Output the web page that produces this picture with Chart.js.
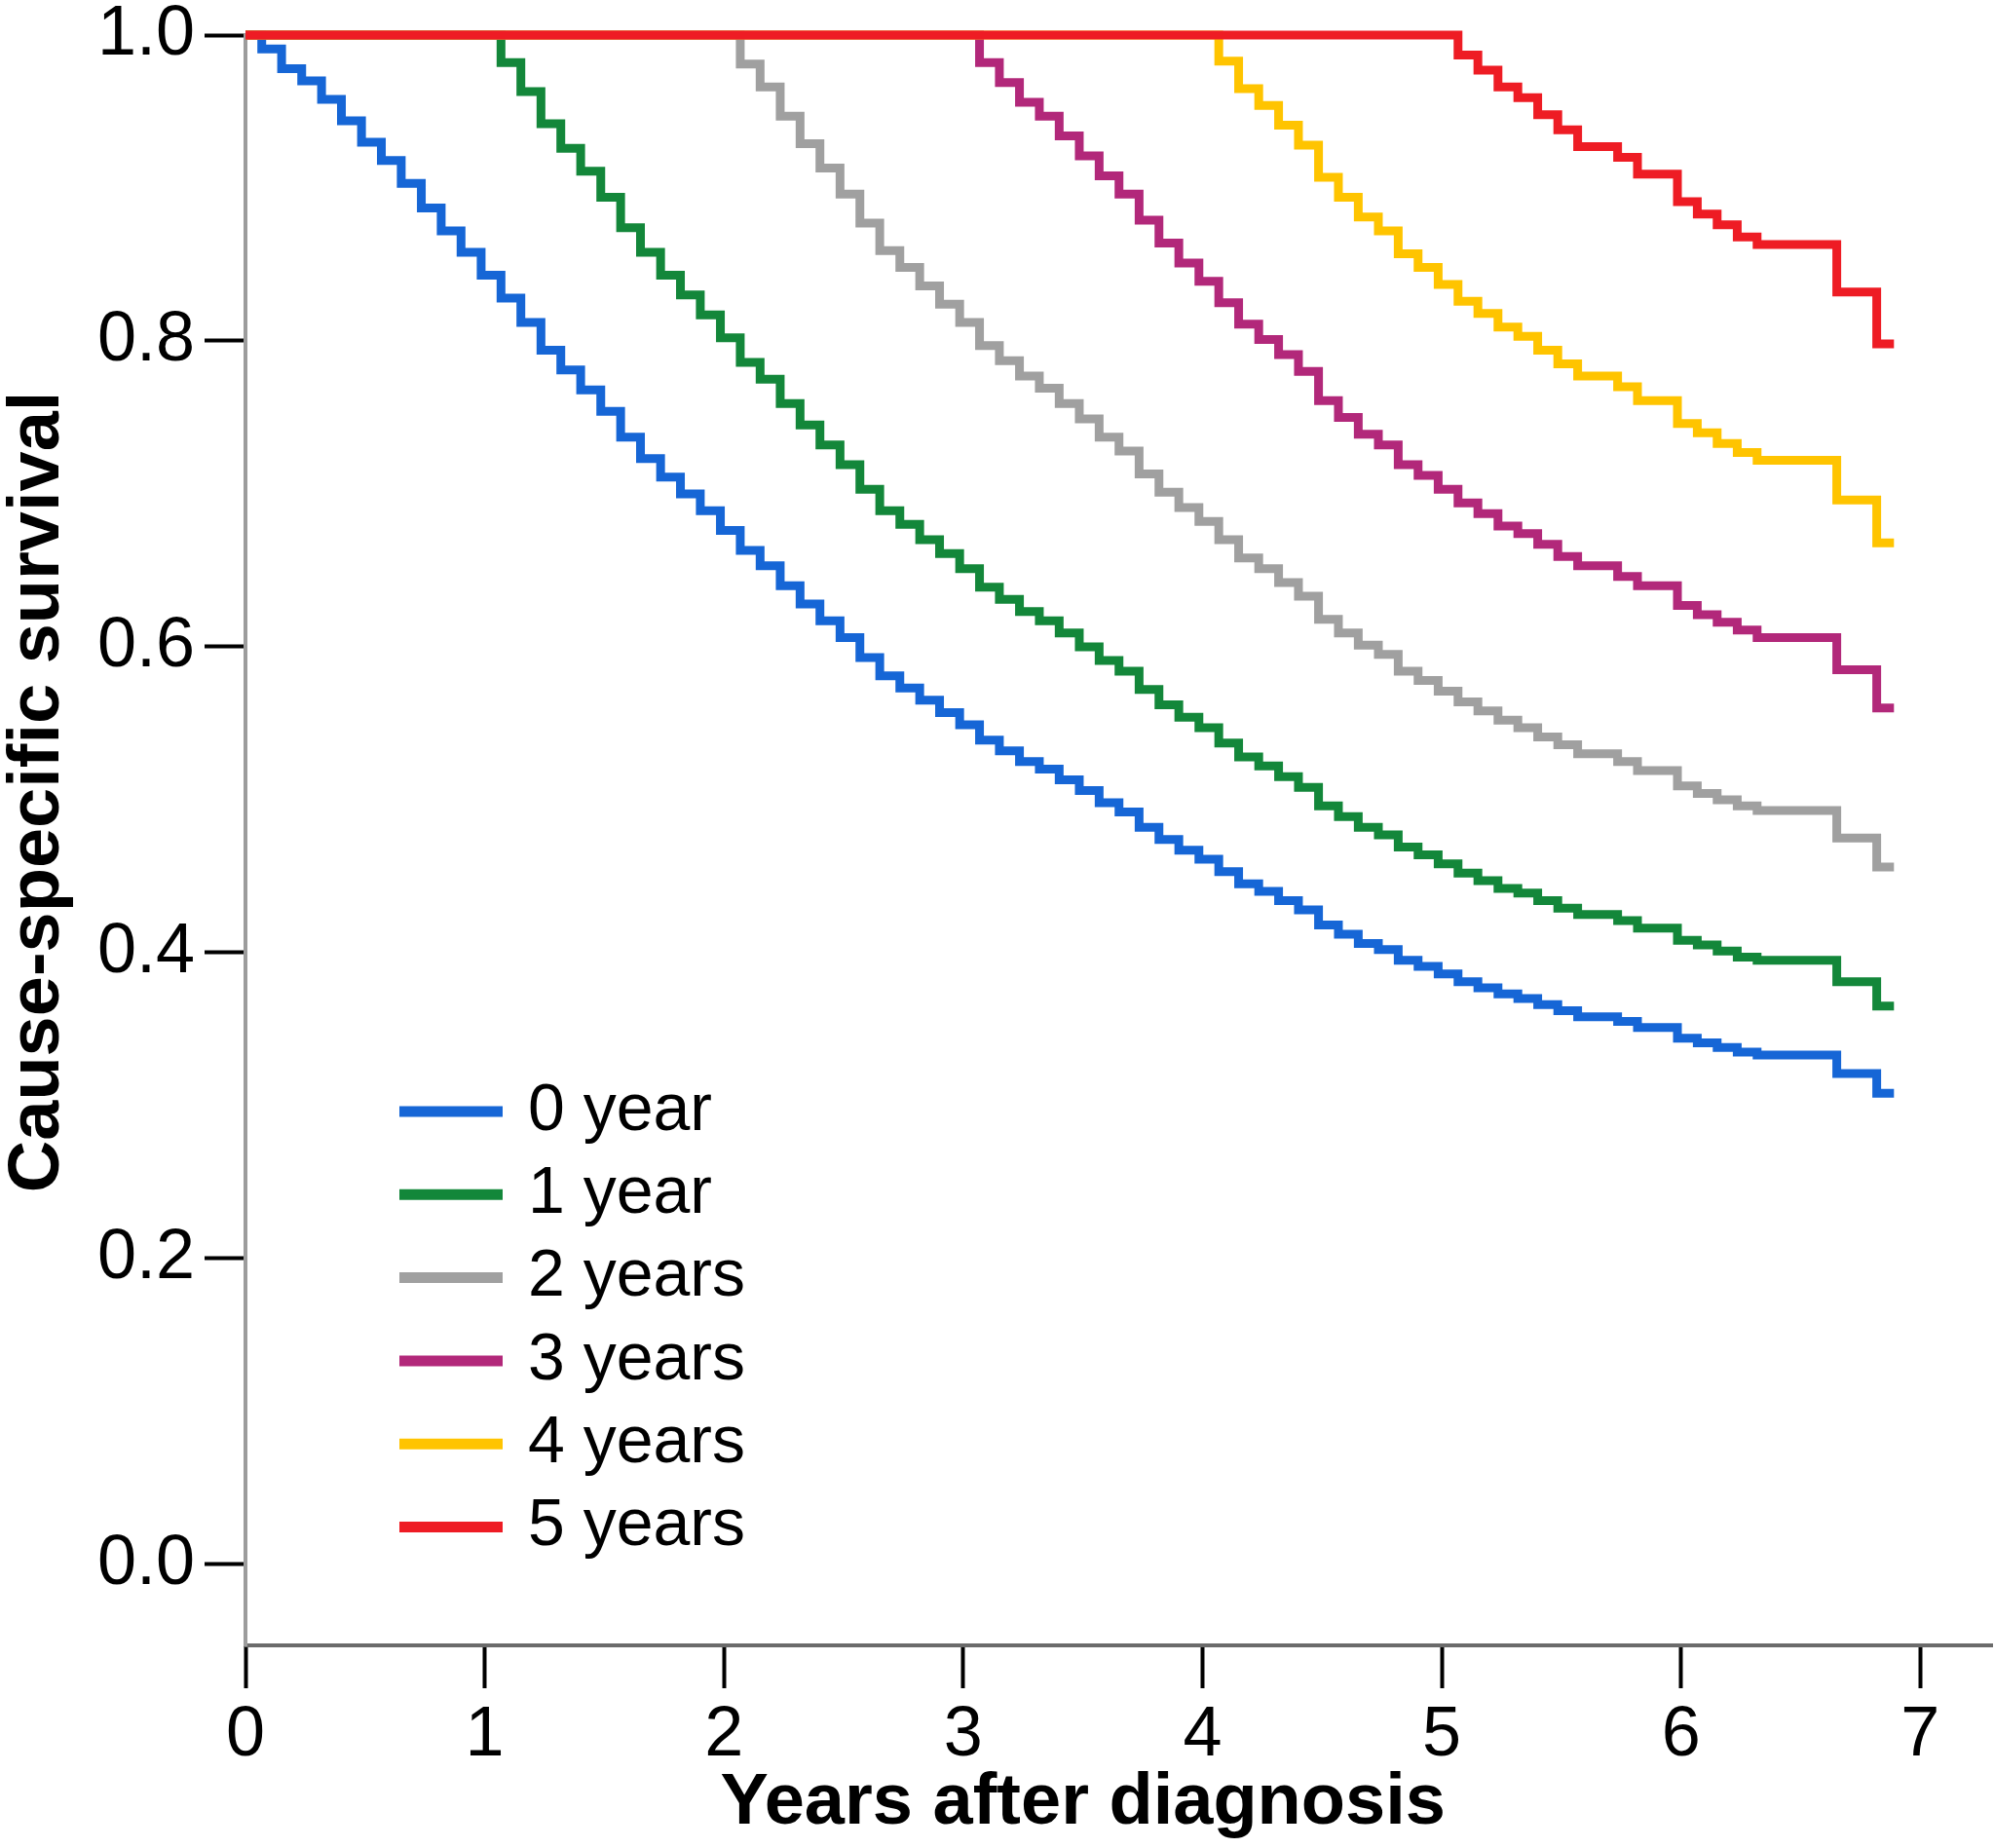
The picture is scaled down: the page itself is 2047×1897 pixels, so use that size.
<!DOCTYPE html>
<html>
<head>
<meta charset="utf-8">
<title>Cause-specific survival</title>
<script src="https://cdn.jsdelivr.net/npm/chart.js@4.4.1/dist/chart.umd.min.js"></script>
<style>
  html, body { margin: 0; padding: 0; background: #fff; }
</style>
</head>
<body>
<canvas id="survivalChart" width="2047" height="1897"></canvas>
<script>
// Times (years after diagnosis) at which the curves step down, shared by all groups
const stepYears = [
  0.068, 0.151, 0.235, 0.318, 0.401, 0.485, 0.568, 0.651, 0.735, 0.818, 0.901, 0.985,
  1.068, 1.151, 1.235, 1.318, 1.401, 1.485, 1.568, 1.651, 1.735, 1.818, 1.901, 1.985,
  2.068, 2.151, 2.235, 2.318, 2.401, 2.485, 2.568, 2.651, 2.735, 2.818, 2.901, 2.985,
  3.068, 3.151, 3.235, 3.318, 3.401, 3.485, 3.568, 3.651, 3.735, 3.818, 3.901, 3.985,
  4.068, 4.151, 4.235, 4.318, 4.401, 4.485, 4.568, 4.651, 4.735, 4.818, 4.901, 4.985,
  5.068, 5.151, 5.235, 5.318, 5.401, 5.485, 5.568, 5.651, 5.735, 5.818, 5.901, 5.985,
  6.068, 6.151, 6.235, 6.318, 6.401, 6.485, 6.568, 6.651, 6.735, 6.818
];
const endYear = 6.89;

const groupLabels = ['0 year', '1 year', '2 years', '3 years', '4 years', '5 years'];
const startYears = [0, 1, 2, 3, 4, 5];

// survival values: first entry is 1.0, then the value after each step from the group's start
const surv0 = [
  1.000, 0.991, 0.978, 0.970, 0.958, 0.944, 0.930, 0.918, 0.903, 0.887, 0.872, 0.858, 0.843,
  0.828, 0.812, 0.794, 0.781, 0.768, 0.754, 0.737, 0.723, 0.711, 0.700, 0.689, 0.676,
  0.663, 0.653, 0.640, 0.628, 0.617, 0.606, 0.593, 0.581, 0.573, 0.565, 0.557, 0.549,
  0.539, 0.532, 0.525, 0.520, 0.513, 0.506, 0.498, 0.492, 0.482, 0.474, 0.467, 0.461,
  0.453, 0.445, 0.440, 0.434, 0.428, 0.418, 0.412, 0.406, 0.402, 0.395, 0.391, 0.386,
  0.381, 0.377, 0.373, 0.370, 0.366, 0.362, 0.358, 0.358, 0.355, 0.351, 0.351, 0.344,
  0.341, 0.338, 0.335, 0.333, 0.333, 0.333, 0.333, 0.321, 0.321, 0.308
];
const surv1 = [
  1.000,
  0.982, 0.963, 0.942, 0.926, 0.911, 0.894, 0.874, 0.858, 0.843, 0.830, 0.817, 0.802,
  0.786, 0.775, 0.759, 0.745, 0.732, 0.719, 0.703, 0.689, 0.680, 0.670, 0.661, 0.651,
  0.639, 0.631, 0.623, 0.617, 0.609, 0.600, 0.591, 0.584, 0.572, 0.562, 0.554, 0.547,
  0.537, 0.528, 0.522, 0.515, 0.508, 0.496, 0.489, 0.482, 0.477, 0.469, 0.464, 0.458,
  0.452, 0.447, 0.442, 0.439, 0.434, 0.429, 0.425, 0.425, 0.421, 0.416, 0.416, 0.408,
  0.405, 0.401, 0.397, 0.395, 0.395, 0.395, 0.395, 0.381, 0.381, 0.365
];
const surv2 = [
  1.000,
  0.981, 0.966, 0.947, 0.929, 0.913, 0.896, 0.877, 0.859, 0.848, 0.836, 0.824, 0.812,
  0.797, 0.787, 0.777, 0.769, 0.759, 0.749, 0.737, 0.728, 0.713, 0.701, 0.691, 0.682,
  0.670, 0.658, 0.651, 0.642, 0.633, 0.618, 0.609, 0.601, 0.595, 0.584, 0.578, 0.571,
  0.564, 0.558, 0.552, 0.547, 0.541, 0.536, 0.530, 0.530, 0.525, 0.519, 0.519, 0.509,
  0.504, 0.500, 0.496, 0.493, 0.493, 0.493, 0.493, 0.475, 0.475, 0.456
];
const surv3 = [
  1.000,
  0.982, 0.969, 0.956, 0.947, 0.934, 0.921, 0.908, 0.896, 0.879, 0.864, 0.851, 0.839,
  0.825, 0.811, 0.801, 0.791, 0.780, 0.761, 0.750, 0.739, 0.732, 0.719, 0.712, 0.703,
  0.694, 0.687, 0.679, 0.674, 0.667, 0.659, 0.653, 0.653, 0.646, 0.640, 0.640, 0.627,
  0.621, 0.616, 0.611, 0.606, 0.606, 0.606, 0.606, 0.585, 0.585, 0.560
];
const surv4 = [
  1.000,
  0.983, 0.965, 0.954, 0.941, 0.928, 0.907, 0.894, 0.881, 0.872, 0.857, 0.848, 0.837,
  0.826, 0.818, 0.809, 0.803, 0.794, 0.785, 0.777, 0.777, 0.770, 0.761, 0.761, 0.746,
  0.740, 0.733, 0.727, 0.722, 0.722, 0.722, 0.722, 0.696, 0.696, 0.668
];
const surv5 = [
  1.000,
  0.987, 0.977, 0.966, 0.959, 0.948, 0.938, 0.927, 0.927, 0.920, 0.909, 0.909, 0.891,
  0.883, 0.876, 0.868, 0.863, 0.863, 0.863, 0.863, 0.832, 0.832, 0.798
];

const xTicks = [0, 1, 2, 3, 4, 5, 6, 7];
const yTicks = [0, 0.2, 0.4, 0.6, 0.8, 1.0];

const lineColors = ['#1666d6', '#13873a', '#a0a0a0', '#b2287a', '#ffc400', '#ee1c24'];
const FONT = '"Liberation Sans", Arial, sans-serif';

// each curve stays at 1.0 until its first step after the start year
function stepPoints(startYear, values) {
  const first = stepYears.findIndex(t => t > startYear);
  const pts = [{ x: 0, y: values[0] }];
  for (let i = 1; i < values.length; i++) {
    pts.push({ x: stepYears[first + i - 1], y: values[i] });
  }
  pts.push({ x: endYear, y: values[values.length - 1] });
  return pts;
}

const allSurv = [surv0, surv1, surv2, surv3, surv4, surv5];

// axis titles and the in-plot legend
const overlayPlugin = {
  id: 'overlay',
  afterDraw(chart) {
    const { ctx, chartArea, scales: { x, y } } = chart;
    ctx.save();
    ctx.fillStyle = '#000';
    ctx.font = `bold 74px ${FONT}`;
    ctx.textAlign = 'center';
    ctx.textBaseline = 'alphabetic';
    ctx.fillText('Years after diagnosis', (x.getPixelForValue(0) + x.getPixelForValue(7)) / 2, 1872);
    ctx.translate(60, (y.getPixelForValue(0) + y.getPixelForValue(1)) / 2 - 8);
    ctx.rotate(-Math.PI / 2);
    ctx.fillText('Cause-specific survival', 0, 0);
    ctx.restore();

    ctx.save();
    ctx.font = `68px ${FONT}`;
    ctx.textAlign = 'left';
    ctx.textBaseline = 'middle';
    const x0 = chartArea.left + 158;
    groupLabels.forEach((label, i) => {
      const rowY = 1141 + i * 85.3;
      ctx.strokeStyle = lineColors[i];
      ctx.lineWidth = 11;
      ctx.beginPath();
      ctx.moveTo(x0, rowY);
      ctx.lineTo(x0 + 106, rowY);
      ctx.stroke();
      ctx.fillStyle = '#000';
      ctx.fillText(label, x0 + 132, rowY);
    });
    ctx.restore();
  }
};

new Chart(document.getElementById('survivalChart'), {
  type: 'line',
  data: {
    datasets: groupLabels.map((label, i) => ({
      label,
      data: stepPoints(startYears[i], allSurv[i]),
      borderColor: lineColors[i],
      borderWidth: 9,
      stepped: true,
      pointRadius: 0,
      fill: false,
      clip: false,
      order: groupLabels.length - 1 - i
    }))
  },
  options: {
    responsive: false,
    devicePixelRatio: 1,
    animation: false,
    layout: { padding: { top: 36, right: 2, bottom: 0, left: 0 } },
    plugins: { legend: { display: false }, tooltip: { enabled: false } },
    scales: {
      x: {
        type: 'linear',
        min: 0,
        max: 7.30,
        afterBuildTicks: s => { s.ticks = xTicks.map(v => ({ value: v })); },
        afterFit: s => { s.height = 208; s.paddingLeft = 0; s.paddingRight = 0; },
        grid: { display: true, drawOnChartArea: false, drawTicks: true, tickLength: 44, tickWidth: 4, tickColor: '#000' },
        border: { display: true, color: '#6b6b6b', width: 4 },
        ticks: { color: '#000', font: { family: FONT, size: 72 }, padding: 6, maxRotation: 0, autoSkip: false, callback: v => String(v) }
      },
      y: {
        type: 'linear',
        min: -0.053,
        max: 1.0,
        afterBuildTicks: s => { s.ticks = yTicks.map(v => ({ value: v })); },
        afterFit: s => { s.width = 252; s.paddingTop = 0; s.paddingBottom = 0; },
        grid: { display: true, drawOnChartArea: false, drawTicks: true, tickLength: 42, tickWidth: 4, tickColor: '#000' },
        border: { display: true, color: '#9c9c9c', width: 4 },
        ticks: { color: '#000', font: { family: FONT, size: 72 }, padding: 10, callback: v => v.toFixed(1) }
      }
    }
  },
  plugins: [overlayPlugin]
});
</script>
</body>
</html>
